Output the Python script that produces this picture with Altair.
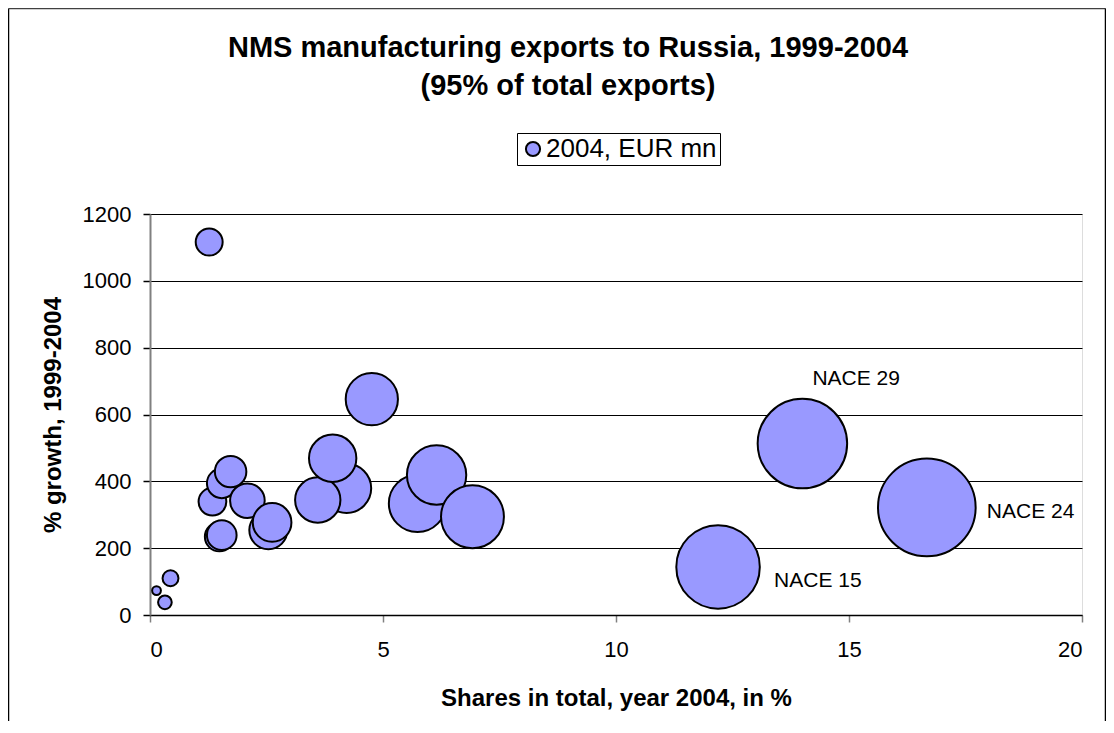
import altair as alt
import pandas as pd

FONT = "Liberation Sans"

# share of total (x), % growth (y), 2004 exports in EUR mn (bubble size)
shares = [1.27, 0.44, 0.14, 0.32, 1.34, 1.54, 1.73, 2.09, 1.49, 1.54, 2.54, 2.62,
          4.22, 3.60, 3.92, 4.76, 5.74, 6.15, 6.92, 12.19, 14.00, 16.67]
growth = [1116, 110, 73, 38, 339, 394, 429, 342, 234, 239, 254, 277,
          379, 344, 469, 646, 334, 419, 294, 144, 513, 322]
eur_mn = [66, 23, 7, 17, 70, 80, 90, 109, 77, 80, 132, 136,
          219, 187, 204, 248, 298, 320, 360, 634, 728, 867]
labels = [""] * 19 + ["NACE 15", "NACE 29", "NACE 24"]
series_name = "2004, EUR mn"

title_line1 = "NMS manufacturing exports to Russia, 1999-2004"
title_line2 = "(95% of total exports)"
x_ticks = [0, 5, 10, 15, 20]
y_ticks = [0, 200, 400, 600, 800, 1000, 1200]

df = pd.DataFrame({
    "share": shares,
    "growth": growth,
    "eur": eur_mn,
    "label": labels,
    "series": [series_name] * len(shares),
})

W, H = 932, 401

x_enc = alt.X(
    "share:Q",
    scale=alt.Scale(domain=[0, 20], nice=False, zero=True),
    axis=alt.Axis(
        values=x_ticks, title="Shares in total, year 2004, in %", grid=False, format="d",
        domainColor="black", domainWidth=1.5, tickColor="#808080", tickSize=7, tickWidth=1.5,
        labelFont=FONT, labelFontSize=22, labelColor="black", labelPadding=17,
        titleFont=FONT, titleFontSize=24, titleFontWeight="bold", titleColor="black", titlePadding=26,
    ),
)
y_enc = alt.Y(
    "growth:Q",
    scale=alt.Scale(domain=[0, 1200], nice=False),
    axis=alt.Axis(
        values=y_ticks, title="% growth, 1999-2004", grid=True, gridColor="black", gridWidth=1,
        format="d",
        domainColor="#808080", domainWidth=2, tickColor="black", tickSize=7, tickWidth=1.5,
        labelFont=FONT, labelFontSize=22, labelColor="black", labelPadding=12,
        titleFont=FONT, titleFontSize=24, titleFontWeight="bold", titleColor="black", titlePadding=17,
    ),
)

bubbles = alt.Chart(df).mark_circle(stroke="black", strokeWidth=2, opacity=1).encode(
    x=x_enc,
    y=y_enc,
    size=alt.Size("eur:Q", scale=alt.Scale(domain=[0, 1000], range=[0, 11000], zero=True), legend=None),
    color=alt.Color(
        "series:N",
        scale=alt.Scale(range=["#9999FF"]),
        legend=alt.Legend(
            title=None, orient="none", legendX=367, legendY=-81,
            fillColor="white", strokeColor="black", padding=3,
            labelFont=FONT, labelFontSize=26, labelColor="black", labelOffset=0, labelLimit=0,
            symbolType="circle", symbolSize=200, symbolStrokeColor="black",
            symbolStrokeWidth=2, symbolOpacity=1,
        ),
    ),
)


def label_layer(name, dx, dy):
    return alt.Chart(df).transform_filter(alt.datum.label == name).mark_text(
        align="left", baseline="middle", dx=dx, dy=dy, font=FONT, fontSize=21, color="black"
    ).encode(x=x_enc, y=y_enc, text="label:N")


one_row = pd.DataFrame({"k": [0]})
frame_left = alt.Chart(one_row).mark_rule(color="black", strokeWidth=1.5).encode(
    x=alt.value(-141.5), y=alt.value(-205.5), y2=alt.value(507))
frame_top = alt.Chart(one_row).mark_rule(color="#404040", strokeWidth=1.5).encode(
    x=alt.value(-141.5), x2=alt.value(955.5), y=alt.value(-205.5))
frame_right = alt.Chart(one_row).mark_rule(color="black", strokeWidth=1.5).encode(
    x=alt.value(955.5), y=alt.value(-205.5), y2=alt.value(507))

title1 = alt.Chart(one_row).mark_text(
    text=title_line1, font=FONT, fontSize=29, fontWeight="bold", color="black",
    align="center", baseline="middle",
).encode(x=alt.value(418), y=alt.value(-166))
title2 = alt.Chart(one_row).mark_text(
    text=title_line2, font=FONT, fontSize=29, fontWeight="bold", color="black",
    align="center", baseline="middle",
).encode(x=alt.value(418), y=alt.value(-128))

chart = alt.layer(
    frame_left, frame_top, frame_right, title1, title2,
    bubbles,
    label_layer("NACE 15", 56, 14),
    label_layer("NACE 29", 10, -65),
    label_layer("NACE 24", 60, 5),
).properties(
    width=W,
    height=H,
    padding={"left": 142, "top": 206, "right": 24, "bottom": 106},
    autosize=alt.AutoSizeParams(type="none"),
).configure_view(
    stroke="#808080", strokeWidth=2
).configure(
    background="white"
)

chart.save("out.html", embed_options={"renderer": "svg", "actions": False})
